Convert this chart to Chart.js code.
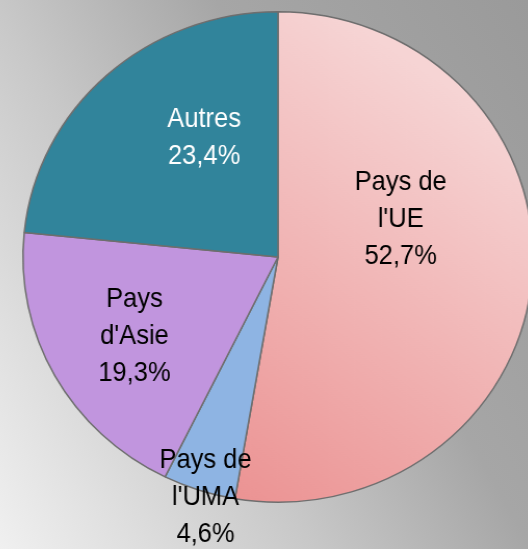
<!DOCTYPE html>
<html>
<head>
<meta charset="utf-8">
<script src="https://cdn.jsdelivr.net/npm/chart.js@4.4.0/dist/chart.umd.min.js"></script>
<style>
  html, body { margin: 0; padding: 0; overflow: hidden; }
  #wrap {
    width: 528px; height: 549px; position: relative;
    background: linear-gradient(60deg, #f0f0f0 0%, #c8c8c8 37%, #a6a6a6 63%, #9a9a9a 100%);
  }
  #chart {
    position: absolute; left: 0; top: 0;
    transform: scaleX(1.04); transform-origin: 278px 0;
  }
</style>
</head>
<body>
<div id="wrap"><canvas id="chart" width="528" height="549"></canvas></div>
<script>
// data
const categories = ["Pays de l'UE", "Pays de l'UMA", "Pays d'Asie", "Autres"];
const shares = [52.7, 4.6, 19.3, 23.4];
const labelLines = [["Pays de", "l'UE"], ["Pays de", "l'UMA"], ["Pays", "d'Asie"], ["Autres"]];

// styling
const sliceColors = [null, '#8eb4e3', '#c195de', '#31849b'];
const textColors = ['#000000', '#000000', '#000000', '#ffffff'];
// where each label sits: fraction along the slice angle, fraction of the radius
const labelAngleFrac = [0.381, 0.39, 0.485, 0.634];
const labelRadiusFrac = [0.505, 1.02, 0.65, 0.565];

const fmtPct = v => v.toFixed(1).replace('.', ',') + '%';

function ueGradient(context) {
    const chart = context.chart;
    const area = chart.chartArea;
    if (!area) return '#f0b0b0';
    const cx = (area.left + area.right) / 2, cy = (area.top + area.bottom) / 2;
    const r = Math.min(area.width, area.height) / 2;
    const g = chart.ctx.createLinearGradient(cx - 0.3 * r, cy + r, cx + 0.8 * r, cy - 0.6 * r);
    g.addColorStop(0, '#eb9090');
    g.addColorStop(1, '#f6d4d4');
    return g;
}

const labelPlugin = {
    id: 'sliceLabels',
    afterDatasetsDraw(chart) {
        const ctx = chart.ctx;
        const arcs = chart.getDatasetMeta(0).data;
        ctx.save();
        ctx.font = '28px "Liberation Sans", Arial, sans-serif';
        ctx.textAlign = 'center';
        ctx.textBaseline = 'middle';
        const lineH = 37;
        arcs.forEach((arc, i) => {
            const a = arc.startAngle + labelAngleFrac[i] * (arc.endAngle - arc.startAngle);
            const rr = labelRadiusFrac[i] * arc.outerRadius;
            const x = arc.x + Math.cos(a) * rr;
            const y = arc.y + Math.sin(a) * rr;
            const lines = labelLines[i].concat([fmtPct(shares[i])]);
            const y0 = y - (lines.length - 1) * lineH / 2;
            ctx.fillStyle = textColors[i];
            lines.forEach((t, k) => {
                ctx.save();
                ctx.translate(x, y0 + k * lineH);
                ctx.scale(0.875, 1);
                ctx.fillText(t, 0, 0);
                ctx.restore();
            });
        });
        ctx.restore();
    }
};

new Chart(document.getElementById('chart'), {
    type: 'pie',
    data: {
        labels: categories,
        datasets: [{
            data: shares,
            backgroundColor: (context) => context.dataIndex === 0 ? ueGradient(context) : sliceColors[context.dataIndex],
            borderColor: '#6e6e6e',
            borderWidth: 1.5
        }]
    },
    options: {
        responsive: false,
        devicePixelRatio: 1,
        animation: false,
        layout: { padding: { top: 11, bottom: 46, left: 32, right: 4 } },
        plugins: {
            legend: { display: false },
            tooltip: { enabled: false }
        }
    },
    plugins: [labelPlugin]
});
</script>
</body>
</html>
